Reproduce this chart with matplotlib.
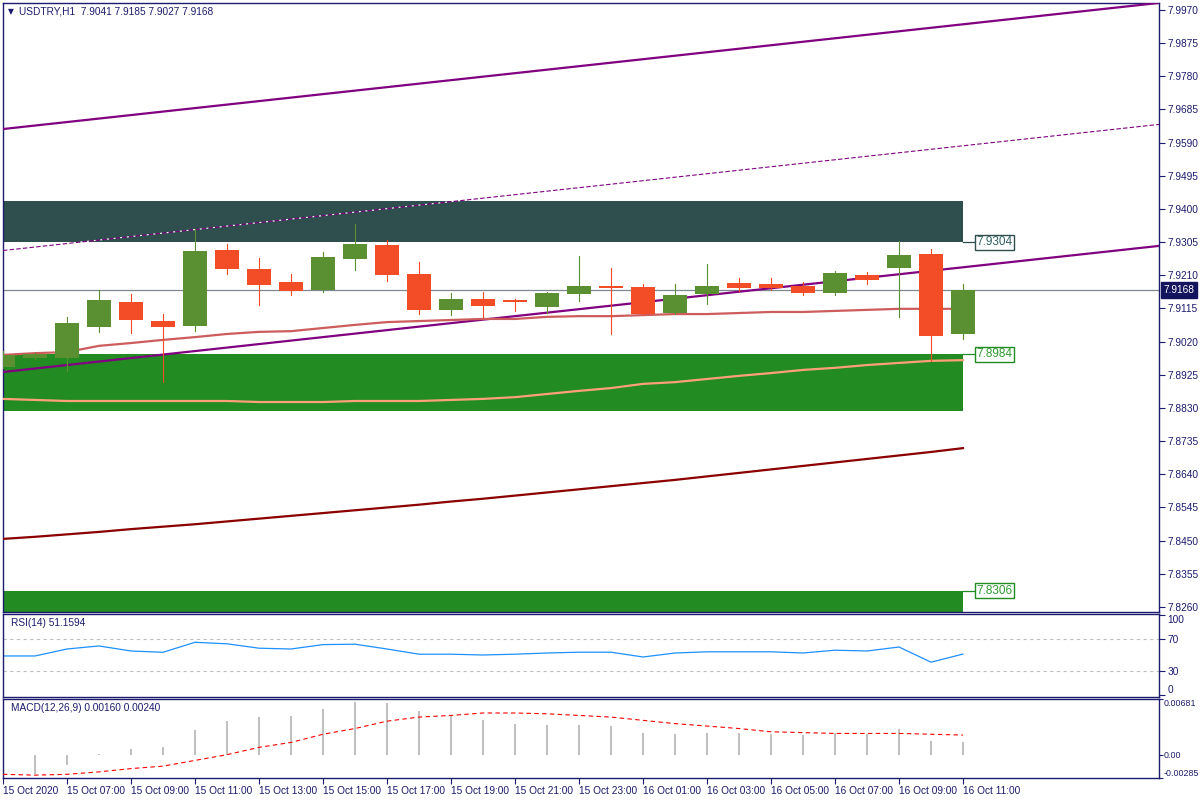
import matplotlib
matplotlib.use('Agg')
import matplotlib.pyplot as plt
import numpy as np
from matplotlib.patches import Rectangle
from matplotlib.transforms import blended_transform_factory

plt.rcParams['font.family'] = ['Liberation Sans', 'DejaVu Sans']

# ---------------- data ----------------
time_labels = ['15 Oct 2020', '15 Oct 07:00', '15 Oct 09:00', '15 Oct 11:00', '15 Oct 13:00',
               '15 Oct 15:00', '15 Oct 17:00', '15 Oct 19:00', '15 Oct 21:00', '15 Oct 23:00',
               '16 Oct 01:00', '16 Oct 03:00', '16 Oct 05:00', '16 Oct 07:00', '16 Oct 09:00',
               '16 Oct 11:00']

opens = [7.8947, 7.8973, 7.8973, 7.9062, 7.9134, 7.9079, 7.9065, 7.9283, 7.9228, 7.9191,
         7.9168, 7.9257, 7.9297, 7.9214, 7.9111, 7.9142, 7.9139, 7.9119, 7.9156, 7.9179,
         7.9177, 7.9102, 7.9156, 7.9188, 7.9185, 7.9179, 7.9159, 7.9211, 7.9231, 7.9271, 7.9041]
highs = [7.8993, 7.8987, 7.9091, 7.9168, 7.9156, 7.9099, 7.9343, 7.9300, 7.9260, 7.9214,
         7.9277, 7.9357, 7.9311, 7.9248, 7.9159, 7.9162, 7.9142, 7.9162, 7.9265, 7.9231,
         7.9185, 7.9185, 7.9242, 7.9202, 7.9202, 7.9191, 7.9222, 7.9219, 7.9308, 7.9285, 7.9185]
lows = [7.8944, 7.8970, 7.8936, 7.9048, 7.9045, 7.8904, 7.9050, 7.9214, 7.9125, 7.9154,
        7.9162, 7.9225, 7.9194, 7.9099, 7.9096, 7.9091, 7.9108, 7.9102, 7.9136, 7.9042,
        7.9096, 7.9100, 7.9128, 7.9165, 7.9168, 7.9154, 7.9154, 7.9185, 7.9091, 7.8965, 7.9027]
closes = [7.8982, 7.8985, 7.9073, 7.9139, 7.9082, 7.9062, 7.9280, 7.9228, 7.9182, 7.9165,
          7.9262, 7.9300, 7.9211, 7.9111, 7.9142, 7.9122, 7.9134, 7.9159, 7.9179, 7.9174,
          7.9099, 7.9154, 7.9179, 7.9174, 7.9174, 7.9159, 7.9217, 7.9197, 7.9268, 7.9036, 7.9168]

ma_red = [7.8982, 7.8987, 7.8990, 7.9008, 7.9016, 7.9025, 7.9033, 7.9042, 7.9048, 7.9050,
          7.9059, 7.9068, 7.9076, 7.9079, 7.9082, 7.9085, 7.9085, 7.9091, 7.9093, 7.9093,
          7.9096, 7.9099, 7.9099, 7.9102, 7.9105, 7.9105, 7.9108, 7.9111, 7.9114, 7.9114, 7.9114]
ma_salmon = [7.8856, 7.8853, 7.8850, 7.8850, 7.8850, 7.8850, 7.8850, 7.8850, 7.8847, 7.8847,
             7.8847, 7.8850, 7.8850, 7.8850, 7.8853, 7.8856, 7.8861, 7.8870, 7.8879, 7.8887,
             7.8899, 7.8904, 7.8913, 7.8922, 7.8930, 7.8939, 7.8945, 7.8953, 7.8959, 7.8965, 7.8967]
ma_darkred = [7.8455, 7.8461, 7.8468, 7.8475, 7.8483, 7.8490, 7.8497, 7.8505, 7.8513, 7.8521,
              7.8529, 7.8537, 7.8545, 7.8553, 7.8562, 7.8570, 7.8579, 7.8588, 7.8597, 7.8606,
              7.8615, 7.8624, 7.8634, 7.8644, 7.8654, 7.8664, 7.8674, 7.8684, 7.8694, 7.8704, 7.8715]

channel_upper = [7.9629, 7.9929]   # values at candle 0 and candle 30
channel_mid = [7.9281, 7.9581]
channel_lower = [7.8933, 7.9233]

zone_supply = [7.9304, 7.9423]
zone_demand = [7.8820, 7.8984]
zone_demand2 = [7.8200, 7.8306]

current_price = 7.9168

rsi = [48.8, 48.8, 57.5, 61.3, 55.0, 53.4, 65.9, 64.0, 58.5, 57.5, 63.0, 63.5, 57.5, 51.0,
       51.0, 50.0, 51.0, 52.5, 53.5, 53.5, 47.5, 52.5, 54.0, 54.0, 54.0, 52.5, 56.0, 55.0,
       60.0, 41.0, 51.16]
macd_hist = [-0.0022, -0.0024, -0.0012, 0.0001, 0.0007, 0.0010, 0.0030, 0.0041, 0.0046, 0.0047,
             0.0056, 0.0064, 0.0063, 0.0054, 0.0048, 0.0042, 0.0038, 0.0036, 0.0036, 0.0035,
             0.0027, 0.0025, 0.0026, 0.0026, 0.0025, 0.0024, 0.0026, 0.0025, 0.0032, 0.0017, 0.0016]
macd_signal = [-0.0024, -0.0025, -0.0024, -0.0021, -0.0017, -0.0014, -0.0007, 0.0000, 0.0009, 0.0015,
               0.0025, 0.0032, 0.0041, 0.0046, 0.0048, 0.0051, 0.0051, 0.0050, 0.0048, 0.0046,
               0.0042, 0.0038, 0.0035, 0.0032, 0.0028, 0.0027, 0.0026, 0.0026, 0.0026, 0.0025, 0.0024]

# ---------------- styles ----------------
NAVY = '#1c1c6e'
UP = '#5b9032'
DOWN = '#f24d27'
FS = 7.3
FS_MACD = 6.4

W, H = 1200, 800
fig = plt.figure(figsize=(12, 8), dpi=100)
fig.patch.set_facecolor('white')


def rect(l, t, r, b):
    return [l / W, 1 - b / H, (r - l) / W, (b - t) / H]


ax = fig.add_axes(rect(3, 3, 1159, 612))
ax_rsi = fig.add_axes(rect(3, 614, 1159, 697))
ax_macd = fig.add_axes(rect(3, 699, 1159, 778))

n = len(opens)
x = np.arange(n)
XMAX = 36.125
for a in (ax, ax_rsi, ax_macd):
    a.set_xlim(0, XMAX)
    for s in a.spines.values():
        s.set_color(NAVY)
        s.set_linewidth(1.0)
    a.yaxis.tick_right()
    a.tick_params(axis='y', direction='out', length=4, colors=NAVY, labelsize=FS, pad=2, width=0.8)
    a.tick_params(axis='x', bottom=False, labelbottom=False)

# ---------------- main panel ----------------
ax.set_ylim(7.82456, 7.99900)
yt = [7.8260 + 0.0095 * k for k in range(19)]
ax.set_yticks(yt)
ax.set_yticklabels([f'{v:.4f}' for v in yt])

# zones
for (lo, hi), col in [(zone_supply, '#2f4f4f'), (zone_demand, '#228b22'), (zone_demand2, '#228b22')]:
    ax.add_patch(Rectangle((-1, lo), 31, hi - lo, facecolor=col, edgecolor='none', zorder=1))

# channel lines
xe = np.array([0, XMAX])
for vals in (channel_upper, channel_lower):
    slope = (vals[1] - vals[0]) / 30
    ax.plot(xe, vals[0] + slope * xe, color='#800080', lw=1.6, zorder=3, solid_capstyle='butt')
slope = (channel_mid[1] - channel_mid[0]) / 30
ax.plot(xe, channel_mid[0] + slope * xe, color='#800080', lw=0.8, zorder=3,
        dashes=(4, 2), gapcolor='white')

# moving averages
ax.plot(x, ma_darkred, color='#8b0000', lw=1.6, zorder=3)
ax.plot(x, ma_red, color='#cd5c5c', lw=1.6, zorder=3)
ax.plot(x, ma_salmon, color='#ffa07a', lw=1.6, zorder=3)

# current price line
ax.axhline(current_price, color='#7f8790', lw=0.9, zorder=2)

# candles
bw = 0.78
for i in range(n):
    o, h, l, c = opens[i], highs[i], lows[i], closes[i]
    col = UP if c >= o else DOWN
    ax.plot([i, i], [l, h], color=col, lw=0.8, zorder=4)
    ax.add_patch(Rectangle((i - bw / 2, min(o, c)), bw, max(abs(c - o), 0.00012),
                           facecolor=col, edgecolor='none', zorder=5))

# zone labels
for val, col, tcol in [(zone_supply[0], '#2f4f4f', '#2f5f5f'), (zone_demand[1], '#228b22', '#2e9a2e'),
                       (zone_demand2[1], '#228b22', '#2e9a2e')]:
    ax.plot([30, 30.35], [val, val], color=col, lw=0.9, zorder=6)
    ax.text(30.42, val, f'{val:.4f}', color=tcol, fontsize=FS + 1.2, va='center', ha='left', zorder=7,
            bbox=dict(boxstyle='square,pad=0.12', facecolor='white', edgecolor=col, lw=1.0))

# current price tag
tr = blended_transform_factory(ax.transAxes, ax.transData)
ax.text(1.0035, current_price, f'{current_price:.4f}', transform=tr, color='white', fontsize=FS,
        va='center', ha='left', zorder=10, clip_on=False,
        bbox=dict(boxstyle='square,pad=0.25', facecolor='#14145e', edgecolor='#14145e'))

# header
ax.text(5 / 1156, 1 - 9 / 609, '\u25bc', transform=ax.transAxes, fontsize=5.5, color=NAVY,
        va='center', ha='left', family='DejaVu Sans')
ax.text(16 / 1156, 1 - 9 / 609, f'USDTRY,H1  {opens[-1]:.4f} {highs[-1]:.4f} {lows[-1]:.4f} {closes[-1]:.4f}',
        transform=ax.transAxes, fontsize=FS, color=NAVY, va='center', ha='left')

# ---------------- RSI ----------------
ax_rsi.set_ylim(-2.5, 101.25)
for lvl in (70, 30):
    ax_rsi.axhline(lvl, color='#c0c0c0', lw=0.8, dashes=(3, 3))
ax_rsi.plot(x, rsi, color='#1e90ff', lw=0.9)
ax_rsi.set_yticks([100, 70, 30, 0])
ax_rsi.set_yticklabels(['100', '70', '30', '0'])
labs = ax_rsi.get_yticklabels()
labs[0].set_va('top')
labs[3].set_va('bottom')
ax_rsi.text(8 / 1156, 1 - 9 / 83, 'RSI(14) 51.1594',
            transform=ax_rsi.transAxes, fontsize=FS, color=NAVY, va='center', ha='left')

# ---------------- MACD ----------------
ax_macd.set_ylim(-0.00285, 0.00681)
ax_macd.bar(x, macd_hist, width=0.09, color='#c0c0c0', zorder=2)
ax_macd.plot(x, macd_signal, color='#ff0000', lw=0.8, dashes=(4, 3), zorder=3)
ax_macd.set_yticks([0.00681, 0.0, -0.00285])
ax_macd.set_yticklabels(['0.00681', '0.00', '-0.00285'])
ax_macd.tick_params(axis='y', labelsize=FS_MACD, pad=0.5, length=3)
labs = ax_macd.get_yticklabels()
labs[0].set_va('top')
labs[2].set_va('bottom')
ax_macd.text(8 / 1156, 1 - 9 / 79, f'MACD(12,26,9) {macd_hist[-1]:.5f} {macd_signal[-1]:.5f}',
             transform=ax_macd.transAxes, fontsize=FS, color=NAVY, va='center', ha='left')

ax_macd.set_xticks(np.arange(0, n, 2))
ax_macd.set_xticklabels(time_labels, ha='left')
ax_macd.tick_params(axis='x', bottom=True, labelbottom=True, direction='out', length=4,
                    colors=NAVY, labelsize=FS, pad=2, width=0.8)

fig.savefig('out.png', dpi=100, facecolor='white')
